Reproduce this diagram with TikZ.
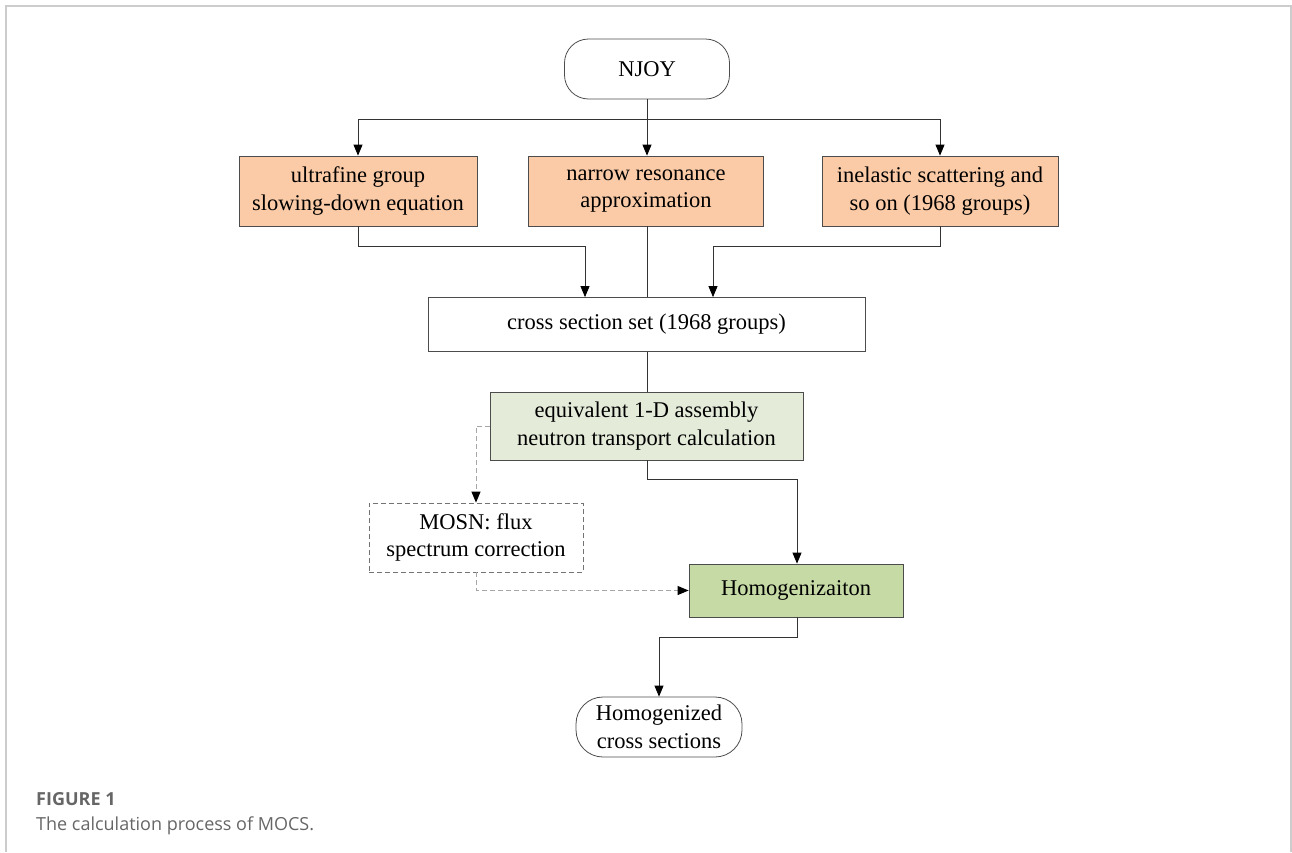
\documentclass[tikz,border=0pt]{standalone}
\usepackage{fontspec}
\setmainfont{Liberation Serif}
\newfontfamily\capfont{Open Sans}
\usetikzlibrary{arrows.meta,positioning}
\definecolor{peach}{HTML}{FBCBA7}
\definecolor{lgreen}{HTML}{E4EBD9}
\definecolor{mgreen}{HTML}{C6DAA6}
\definecolor{framegray}{HTML}{CCCCCC}
\definecolor{capgray}{HTML}{666666}
\begin{document}
\begin{tikzpicture}[x=1pt,y=-1pt,
  box/.style={draw=black!70,line width=0.8pt,align=center,inner sep=0pt,
    font=\fontsize{22.5}{27.5}\selectfont},
  term/.style={box,rounded corners=24pt},
  arr/.style={draw=black!80,line width=0.8pt,-{Triangle[length=11pt,width=9pt,color=black]}},
  ln/.style={draw=black!80,line width=0.8pt},
  dsh/.style={draw=black!35,line width=1pt,dash pattern=on 5pt off 3pt,-{Triangle[length=11pt,width=9pt,color=black]}},
]
\useasboundingbox (0,0) rectangle (1292,852);
% frame
\draw[framegray,line width=2pt] (6,852) -- (6,5.5) -- (1291,5.5) -- (1291,852);

\node[term,minimum width=165pt,minimum height=60pt] (njoy) at (647,69) {NJOY};
\node[box,fill=peach,minimum width=238pt,minimum height=70pt] (b1) at (358,191) {ultrafine group\\slowing-down equation};
\node[box,fill=peach,minimum width=235pt,minimum height=70pt] (b2) at (646,191) {narrow resonance\\approximation};
\node[box,fill=peach,minimum width=236pt,minimum height=70pt] (b3) at (940,191) {inelastic scattering and\\so on (1968 groups)};
\node[box,minimum width=437pt,minimum height=54pt] (cross) at (646.5,324.5) {cross section set (1968 groups)};
\node[box,fill=lgreen,minimum width=313pt,minimum height=68pt] (eq) at (646.5,426) {equivalent 1-D assembly\\neutron transport calculation};
\node[box,draw=black!55,dashed,dash pattern=on 5pt off 3pt,minimum width=214pt,minimum height=69pt] (mosn) at (476,537.5) {MOSN: flux\\spectrum correction};
\node[box,fill=mgreen,minimum width=214pt,minimum height=53pt] (hom) at (796,590.5) {Homogenizaiton};
\node[term,rounded corners=27pt,minimum width=166pt,minimum height=60pt] (fin) at (659,727) {Homogenized\\cross sections};

\coordinate (j) at (647,119);
\coordinate (m1) at (585,246);
\coordinate (m3) at (713,246);
\coordinate (m4) at (797,479.5);
\coordinate (m5) at (659,637);

\draw[ln] (njoy.south) -- (j);
\draw[arr] (j) -| (b1.north);
\draw[arr] (j) -| (b3.north);
\draw[arr] (j) -- (j |- b2.north);
\draw[arr] (b1.south) |- (m1) -- (m1 |- cross.north);
\draw[arr] (b3.south) |- (m3) -- (m3 |- cross.north);
\draw[ln] (b2.south -| j) -- (cross.north -| j);
\draw[ln] (cross.south -| j) -- (eq.north -| j);
\draw[arr] (eq.south -| j) |- (m4) -- (m4 |- hom.north);
\draw[dsh] (eq.west) -| (mosn.north);
\draw[dsh] (mosn.south) |- (hom.west);
\draw[arr] (hom.south -| m4) |- (m5) -- (fin.north);

\node[anchor=base west,inner sep=0pt,text=capgray,font=\capfont\bfseries\fontsize{18}{22}\selectfont] (cap1) at (36,805) {FIGURE 1};
\node[anchor=base west,inner sep=0pt,text=capgray,font=\capfont\fontsize{18}{22}\selectfont] (cap2) at (36,830) {The calculation process of MOCS.};
\end{tikzpicture}
\end{document}
